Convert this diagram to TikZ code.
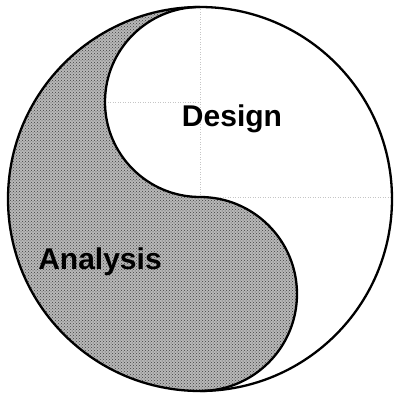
\documentclass[tikz,border=0pt]{standalone}
\usepackage{fontspec}
\newfontfamily\labelfont{Liberation Sans}
\usetikzlibrary{patterns}
\tikzstyle{guide} = [gray!45, dotted, line width=0.5pt]
\tikzstyle{shade} = [fill=black!28, postaction={pattern=crosshatch dots, pattern color=black!75}]
\tikzstyle{outline} = [line width=2.3pt, black]
\tikzstyle{label} = [font=\labelfont\bfseries\fontsize{30}{36}\selectfont, inner sep=0pt]

\begin{document}
\begin{tikzpicture}[x=1pt, y=1pt]
      \useasboundingbox (0,0) rectangle (395,397);
      % Guides
      \draw [guide] (200,390) -- (200,200);
      \draw [guide] (105,295) -- (200,295);
      \draw [guide] (200,200) -- (392,200);
      % Shaded half
      \path [shade] (200,390) arc[start angle=90, end angle=270, radius=192]
            arc[start angle=-90, end angle=90, radius=97]
            arc[start angle=270, end angle=90, radius=95] -- cycle;
      % Outlines
      \draw [outline] (200,198) circle (192);
      \draw [outline] (200,6) arc[start angle=-90, end angle=90, radius=97]
            arc[start angle=270, end angle=90, radius=95];
      % Nodes
      \node (design) [label] at (232,278) {Design};
      \node (analysis) [label] at (100,135) {Analysis};
    \end{tikzpicture}
\end{document}
